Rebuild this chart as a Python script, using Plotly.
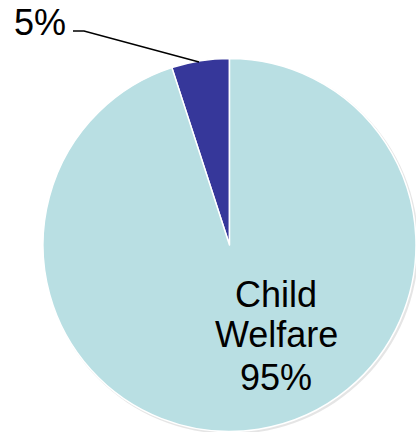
import plotly.graph_objects as go

categories = ["Other", "Child Welfare"]
values = [5, 95]
colors = ["#36379A", "#B9DFE3"]

W, H = 416, 432

def px(x):
    return x / W

def py(y):
    return 1 - y / H

fig = go.Figure()
fig.add_trace(go.Pie(
    labels=categories,
    values=values,
    sort=False,
    direction="clockwise",
    rotation=-18,
    marker=dict(colors=colors, line=dict(color="white", width=1.5)),
    textinfo="none",
    hoverinfo="label+percent",
    showlegend=False,
    domain=dict(x=[43 / W, 1], y=[0, 374 / H]),
))

total = sum(values)
pct = [f"{round(v / total * 100)}%" for v in values]

font = dict(family="Liberation Sans, Arial, sans-serif", size=36, color="black")
annotations = []
# big slice label, one word per line
lines = categories[1].split(" ") + [pct[1]]
ys = [294, 334, 377]
for t, y in zip(lines, ys):
    annotations.append(dict(text=t, x=px(276), y=py(y), xref="paper", yref="paper",
                            showarrow=False, xanchor="center", yanchor="middle", font=font))
# small slice label
annotations.append(dict(text=pct[0], x=px(40), y=py(22), xref="paper", yref="paper",
                        showarrow=False, xanchor="center", yanchor="middle", font=font))

shapes = [
    # soft shadow behind the pie
    dict(type="circle", xref="paper", yref="paper", layer="below",
         x0=px(231 - 187.5), x1=px(231 + 187.5), y0=py(246.5 - 187.5), y1=py(246.5 + 187.5),
         fillcolor="rgba(0,0,0,0.10)", line=dict(width=0)),
    # leader line for small slice
    dict(type="path", xref="paper", yref="paper",
         path=f"M {px(73)},{py(31)} L {px(84)},{py(31)} L {px(199)},{py(62)}",
         line=dict(color="black", width=1.5)),
]

fig.update_layout(
    width=W, height=H,
    margin=dict(l=0, r=0, t=0, b=0),
    paper_bgcolor="white",
    plot_bgcolor="white",
    annotations=annotations,
    shapes=shapes,
)

fig.write_html("out.html", config={"displayModeBar": False},
               post_script="document.body.style.margin='0';document.body.style.overflow='hidden';")
